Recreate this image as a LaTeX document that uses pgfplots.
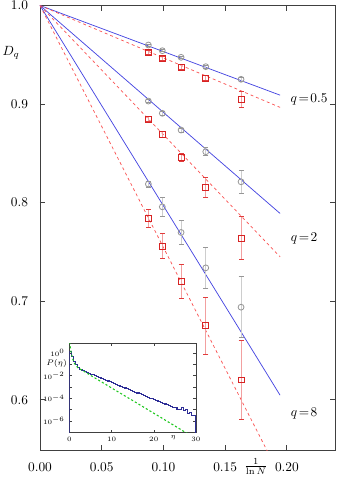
\documentclass[border=0pt]{standalone}
\usepackage{pgfplots}
\pgfplotsset{compat=1.18}
\definecolor{fitblue}{RGB}{70,70,225}
\definecolor{fitred}{RGB}{250,85,85}
\definecolor{ptred}{RGB}{215,35,35}
\definecolor{errred}{RGB}{242,160,160}
\definecolor{capred}{RGB}{225,60,60}
\definecolor{ptgray}{RGB}{150,150,150}
\definecolor{errgray}{RGB}{205,205,205}
\definecolor{histblue}{RGB}{45,45,150}
\definecolor{fitgreen}{RGB}{30,200,30}

% D_q estimates: x = 1/ln N, y = D_q, e = error
\pgfplotstableread{
x      y      e
0.0878 0.9599 0.001
0.0991 0.9541 0.001
0.1143 0.9474 0.001
0.1343 0.9379 0.0015
0.1629 0.9251 0.002
}\circA
\pgfplotstableread{
x      y      e
0.0878 0.9525 0.002
0.0991 0.9464 0.002
0.1143 0.9373 0.0025
0.1343 0.9261 0.0025
0.1629 0.9048 0.008
}\sqA
\pgfplotstableread{
x      y      e
0.0878 0.9030 0.0015
0.0991 0.8906 0.002
0.1143 0.8736 0.002
0.1343 0.8516 0.004
0.1629 0.8211 0.012
}\circB
\pgfplotstableread{
x      y      e
0.0878 0.8848 0.0025
0.0991 0.8690 0.003
0.1143 0.8455 0.004
0.1343 0.8154 0.010
0.1629 0.7640 0.022
}\sqB
\pgfplotstableread{
x      y      e
0.0878 0.8188 0.003
0.0991 0.7957 0.0095
0.1143 0.7697 0.012
0.1343 0.7338 0.021
0.1629 0.6939 0.031
}\circC
\pgfplotstableread{
x      y      e
0.0878 0.7839 0.009
0.0991 0.7558 0.0127
0.1143 0.7203 0.017
0.1343 0.6753 0.029
0.1629 0.6201 0.040
}\sqC

\pgfplotsset{
  grayset/.style={ptgray, only marks, mark=o, mark size=2.2pt, mark options={line width=0.6pt},
    error bars/.cd, y dir=both, y explicit,
    error bar style={errgray, line width=0.6pt},
    error mark options={ptgray, rotate=90, mark size=1.9pt, line width=0.6pt}},
  redset/.style={ptred, only marks, mark=square, mark size=2.2pt, mark options={line width=0.6pt},
    error bars/.cd, y dir=both, y explicit,
    error bar style={errred, line width=0.6pt},
    error mark options={capred, rotate=90, mark size=1.9pt, line width=0.6pt}},
  fitline/.style={fitblue, line width=0.55pt},
  fitdash/.style={fitred, line width=0.55pt, dash pattern=on 2.2pt off 2.2pt},
}

\begin{document}
\begin{tikzpicture}
\useasboundingbox (-30pt,-24pt) rectangle (223.5pt,337.5pt);
\begin{axis}[
    scale only axis,
    width=221.8pt, height=333.4pt,
    xmin=0, xmax=0.2396, ymin=0.549, ymax=1.0,
    xtick={0,0.05,0.10,0.15,0.20},
    ytick={0.6,0.7,0.8,0.9,1.0},
    scaled x ticks=false, scaled y ticks=false,
    tick align=inside,
    major tick length=4pt,
    axis line style={black!75, line width=0.6pt},
    tick style={black!75, line width=0.6pt},
    xticklabel style={/pgf/number format/.cd, fixed, fixed zerofill, precision=2, /tikz/.cd, yshift=-6pt},
    yticklabel style={/pgf/number format/.cd, fixed, fixed zerofill, precision=1, /tikz/.cd, xshift=-5.5pt},
    xlabel={$\frac{1}{\ln N}$},
    xlabel style={at={(axis description cs:0.73,0)}, anchor=center, yshift=-12.5pt},
    ylabel={$D_q$},
    ylabel style={rotate=-90, at={(axis description cs:-0.098,0.893)}, anchor=center},
]

% fits through D_q(0)=1
\addplot[fitline] coordinates {(0,1) (0.1945,0.909)};
\addplot[fitdash] coordinates {(0,1) (0.1945,0.8966)};
\addplot[fitline] coordinates {(0,1) (0.1945,0.789)};
\addplot[fitdash] coordinates {(0,1) (0.1945,0.745)};
\addplot[fitline] coordinates {(0,1) (0.1945,0.6046)};
\addplot[fitdash] coordinates {(0,1) (0.1945,0.5225)};

\addplot[grayset] table[x=x, y=y, y error=e] {\circA};
\addplot[redset]  table[x=x, y=y, y error=e] {\sqA};
\addplot[grayset] table[x=x, y=y, y error=e] {\circB};
\addplot[redset]  table[x=x, y=y, y error=e] {\sqB};
\addplot[grayset] table[x=x, y=y, y error=e] {\circC};
\addplot[redset]  table[x=x, y=y, y error=e] {\sqC};

\node at (axis cs:0.218,0.905) {$q\!=\!0.5$};
\node at (axis cs:0.214,0.764) {$q\!=\!2$};
\node at (axis cs:0.214,0.5863) {$q\!=\!8$};
\end{axis}

% inset: distribution of eta
\begin{axis}[
    at={(22pt,13.3pt)}, anchor=south west,
    scale only axis,
    width=95pt, height=66.5pt,
    ymode=log,
    xmin=0, xmax=30, ymin=1e-7, ymax=6.6,
    xtick={0,10,20,30},
    ytick={1,1e-1,1e-2,1e-3,1e-4,1e-5,1e-6,1e-7},
    yticklabels={$10^{0}$,{},$10^{-2}$,{},$10^{-4}$,{},$10^{-6}$,{}},
    yminorticks=false,
    tick align=inside,
    major tick length=2pt,
    axis background/.style={fill=white},
    axis line style={black!75, line width=0.5pt},
    tick style={black!75, line width=0.4pt},
    tick label style={font=\fontsize{5.5}{6}\selectfont},
    xlabel={$\eta$},
    xlabel style={font=\fontsize{5.5}{6}\selectfont, at={(axis description cs:0.82,0)}, anchor=center, yshift=-3.8pt},
    ylabel={$P(\eta)$},
    ylabel style={font=\fontsize{6.5}{7}\selectfont, rotate=-90, at={(axis description cs:-0.1,0.771)}, anchor=center},
]
\addplot[histblue, line width=0.8pt, const plot] coordinates {
(0,1e-8) (0,1.25) (0.5,0.45) (1,0.19) (1.5,0.09) (2,0.047) (2.5,0.034)
(3,0.027) (3.5,0.022) (4,0.019) (4.5,0.016) (5,0.0135) (5.5,0.0116)
(6,0.0100) (6.5,0.0083) (7,0.0069) (7.5,0.0058) (8,0.0048) (8.5,0.0040)
(9,0.0033) (9.5,0.0028) (10,0.0023) (10.5,0.00195) (11,0.0016) (11.5,0.00135)
(12,0.00113) (12.5,0.00095) (13,0.0008) (13.5,0.00067) (14,0.00057) (14.5,0.00048)
(15,0.0004) (15.5,0.00034) (16,0.00029) (16.5,0.00024) (17,0.0002) (17.5,0.00017)
(18,0.000145) (18.5,0.000122) (19,0.0001) (19.5,0.000088) (20,0.000074) (20.5,0.000062)
(21,0.000052) (21.5,0.000044) (22,0.000037) (22.5,0.000031) (23,0.000026) (23.5,0.000023)
(24,0.000019) (24.5,0.000016) (25,0.000014) (25.5,0.000011) (26,0.0000095) (26.5,0.000016)
(27,0.000008) (27.5,0.000011) (28,0.0000042) (28.5,0.0000052) (29,0.0000028) (29.5,0.000003)
(30,0.000003) (30,1e-8)
};
\addplot[fitgreen, line width=0.8pt, dash pattern=on 1.6pt off 1.6pt] coordinates {
(0.1,9) (0.2,4) (0.35,1.6) (0.55,0.7) (0.8,0.3) (1.2,0.12) (2,0.05)
(5,0.0106) (10,8.1e-4) (15,6.3e-5) (20,4.8e-6) (25,3.6e-7) (29,4.5e-8)
};
\end{axis}
\end{tikzpicture}
\end{document}
